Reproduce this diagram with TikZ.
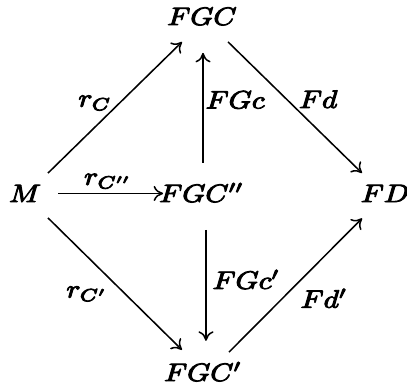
\documentclass[tikz,border=0pt]{standalone}
\usepackage{graphicx}
\usetikzlibrary{arrows.meta}
\newcommand{\heavy}{\special{pdf:literal direct 2 Tr 0.36 w}}
\newcommand{\sq}[1]{\scalebox{1.05}[0.9]{#1}}
\begin{document}
\begin{tikzpicture}[x=0.357pt,y=-0.357pt,
  font=\heavy,
  obj/.style={inner sep=0pt,text height=6.1pt,text depth=0pt,anchor=base},
  lab/.style={inner sep=0pt,anchor=center},
  arr/.style={line width=0.55pt,-{Computer Modern Rightarrow[length=3.4pt,width=5.4pt]}}]
\useasboundingbox (0,0) rectangle (407,390);
\node[obj] (FGC)   at (202,25)    {\sq{$FGC$}};
\node[obj] (M)     at (25,202)    {\sq{$M$}};
\node[obj] (FGCpp) at (201.5,202) {\sq{$FGC''$}};
\node[obj] (FD)    at (385,202)   {\sq{$FD$}};
\node[obj] (FGCp)  at (203,381)   {\sq{$FGC'$}};
% diagonals
\draw[arr,shorten <=11.5pt,shorten >=9.5pt] ([yshift=2.3pt]M.base) -- node[lab,pos=0.466,xshift=-4.3pt,yshift=4.4pt] (lrC) {\sq{$r_C$}} ([yshift=0.6pt,xshift=-0.35pt]FGC.base);
\draw[arr,shorten <=13.5pt,shorten >=11.5pt] ([yshift=0.35pt,xshift=-0.35pt]FGC.center) -- node[lab,pos=0.555,xshift=5.4pt,yshift=5.8pt] (lFd) {\sq{$Fd$}} ([yshift=2.3pt]FD.base);
\draw[arr,shorten <=11.5pt,shorten >=10.3pt] ([yshift=2.4pt]M.base) -- node[lab,pos=0.455,xshift=-6.7pt,yshift=-6.8pt] (lrCp) {\sq{$r_{C'}$}} ([yshift=0.85pt,xshift=-0.18pt]FGCp.center);
\draw[arr,shorten <=13.4pt,shorten >=11.6pt] ([yshift=0.8pt,xshift=-0.18pt]FGCp.base) -- node[lab,pos=0.552,xshift=7.4pt,yshift=-7.4pt] (lFdp) {\sq{$Fd'$}} ([yshift=2.4pt]FD.base);
% verticals
\draw[arr,shorten <=10.9pt,shorten >=13pt] ([xshift=0.54pt]FGCpp.center) -- node[pos=0.529,anchor=west,inner sep=0pt,xshift=0.7pt] (lFGc) {\sq{$FGc$}} ([xshift=0.54pt]FGCpp.center |- FGC.center);
\draw[arr,shorten <=13pt,shorten >=11.3pt] ([xshift=1.6pt]FGCpp.center) -- node[pos=0.48,anchor=west,inner sep=0pt,xshift=2.1pt] (lFGcp) {\sq{$FGc'$}} ([xshift=1.6pt]FGCpp.center |- FGCp.center);
% horizontal
\draw[arr,shorten <=11.8pt,shorten >=13.7pt] (M.center) -- node[pos=0.47,anchor=south,inner sep=1.5pt] (lrCpp) {\sq{$r_{C''}$}} (M.center -| FGCpp.center);
\end{tikzpicture}
\end{document}
